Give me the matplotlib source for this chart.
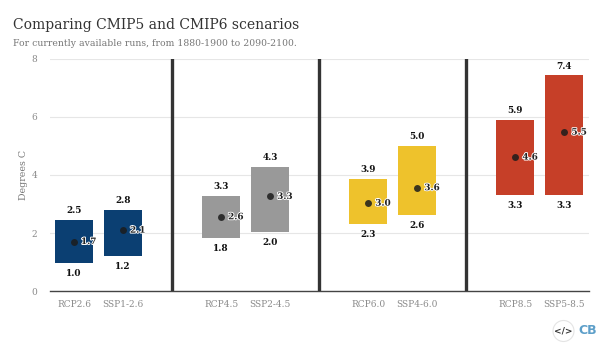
import matplotlib
matplotlib.use("Agg")
import matplotlib.pyplot as plt
import matplotlib.patheffects as pe
from matplotlib.patches import Circle

categories = ["RCP2.6", "SSP1-2.6", "", "RCP4.5", "SSP2-4.5", "", "RCP6.0", "SSP4-6.0", "", "RCP8.5", "SSP5-8.5"]
low = [0.98, 1.22, None, 1.83, 2.03, None, 2.32, 2.62, None, 3.32, 3.32]
high = [2.46, 2.80, None, 3.28, 4.28, None, 3.86, 5.00, None, 5.90, 7.42]
mid = [1.71, 2.10, None, 2.56, 3.26, None, 3.03, 3.56, None, 4.61, 5.47]
colors = ["#0b3f72", "#0b3f72", None, "#999999", "#999999", None, "#eec22c", "#eec22c", None, "#c63f28", "#c63f28"]
separators = [2, 5, 8]
yticks = [0, 2, 4, 6, 8]

plt.rcParams["font.family"] = "DejaVu Serif"
W, H = 612, 352
fig = plt.figure(figsize=(W / 100, H / 100), dpi=100)
ax = fig.add_axes([49.5 / W, 1 - 291.3 / H, (589 - 49.5) / W, (291.3 - 58.5) / H])
ax.set_xlim(-0.5, 10.5)
ax.set_ylim(0, 8)

ax.set_yticks(yticks)
ax.set_xticks([i for i, c in enumerate(categories) if c])
ax.set_xticklabels([c for c in categories if c])
ax.tick_params(axis="both", length=0, labelsize=6.5, labelcolor="#8a8a8a")
ax.tick_params(axis="x", pad=6.5)
ax.tick_params(axis="y", pad=9)
ax.grid(axis="y", color="#e6e6e6", lw=0.8)
ax.set_axisbelow(True)
for s in ["top", "right", "left"]:
    ax.spines[s].set_visible(False)
ax.spines["bottom"].set_color("#444444")
ax.spines["bottom"].set_linewidth(1.0)
ax.set_ylabel("Degrees C", fontsize=6.8, color="#777777", labelpad=2)

for x in separators:
    ax.axvline(x, color="#333333", lw=2.4, zorder=4)

for i, c in enumerate(categories):
    if not c:
        continue
    ax.bar(i, high[i] - low[i], bottom=low[i], width=0.775, color=colors[i], zorder=2)
    ax.annotate(f"{high[i]:.1f}", (i, high[i]), xytext=(0, 3.3), textcoords="offset points",
                ha="center", va="bottom", fontsize=6.4, fontweight="bold", color="#111111")
    ax.annotate(f"{low[i]:.1f}", (i, low[i]), xytext=(0, -4.5), textcoords="offset points",
                ha="center", va="top", fontsize=6.4, fontweight="bold", color="#111111")
    ax.plot(i, mid[i], "o", ms=5, color="#1c1c1c", mec="none", alpha=0.85, zorder=3)
    t = ax.annotate(f"{mid[i]:.1f}", (i, mid[i]), xytext=(5, 0), textcoords="offset points",
                    ha="left", va="center", fontsize=6.4, fontweight="bold", color="#222222", zorder=5)
    t.set_path_effects([pe.withStroke(linewidth=1.3, foreground="white")])

fig.text(13 / W, 1 - 24.5 / H, "Comparing CMIP5 and CMIP6 scenarios", fontsize=10, color="#333333", va="center", ha="left")
fig.text(13 / W, 1 - 43 / H, "For currently available runs, from 1880-1900 to 2090-2100.", fontsize=6.65, color="#777777", va="center", ha="left")

# Logo
overlay = fig.add_axes([0, 0, 1, 1], facecolor="none")
overlay.set_xlim(0, W)
overlay.set_ylim(H, 0)
overlay.axis("off")
overlay.add_patch(Circle((563.5, 331), 10.5, fc="white", ec="#e4e4e4", lw=0.8))
overlay.text(563.5, 331, "</>", fontsize=6.5, fontweight="bold", family="DejaVu Sans", color="#333333", ha="center", va="center")
overlay.text(588, 331, "CB", fontsize=9, fontweight="bold", family="DejaVu Sans", color="#5d9fc9", ha="center", va="center")

fig.savefig("out.png", dpi=100)
